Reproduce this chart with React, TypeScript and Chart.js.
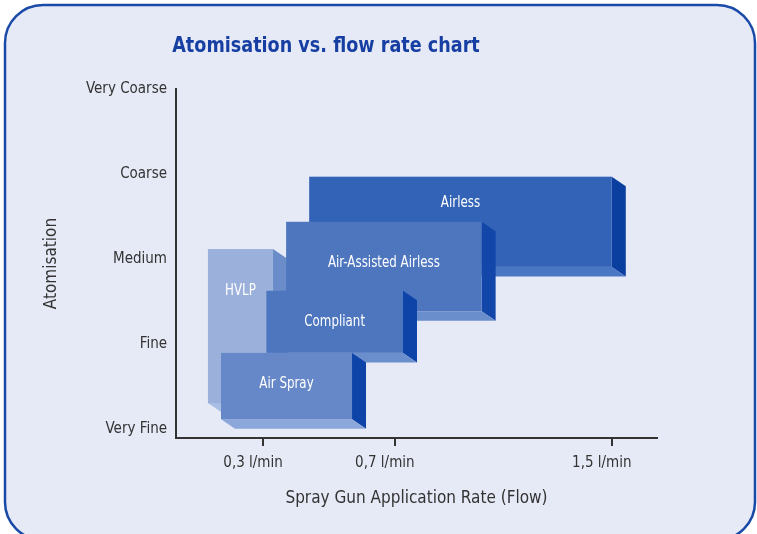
import React, { useEffect, useRef } from 'react';
import { Chart, registerables, LinearScale } from 'chart.js';

Chart.register(...registerables);

const FONT = "'Liberation Sans Narrow', 'DejaVu Sans Condensed', 'Arial Narrow', sans-serif";

// ---- data ----
const chartTitle = 'Atomisation vs. flow rate chart';
const xTitle = 'Spray Gun Application Rate (Flow)';
const yTitle = 'Atomisation';

const atomisationLevels = ['Very Fine', 'Fine', 'Medium', 'Coarse', 'Very Coarse'];
const flowTicks = [0.3, 0.7, 1.5];
const flowTickLabels = ['0,3 l/min', '0,7 l/min', '1,5 l/min'];

// The flow axis of the original is not linear: knots (l/min) and their fraction of the axis length
const flowKnots = [0, 0.3, 0.7, 1.5, 1.66];
const flowKnotFractions = [0, 0.181, 0.455, 0.906, 1];

// spray methods, drawn back to front
const methods = ['HVLP', 'Airless', 'Air-Assisted Airless', 'Compliant', 'Air Spray'];
const flowMin = [0.11, 0.44, 0.37, 0.31, 0.155];
const flowMax = [0.33, 1.5, 1.02, 0.73, 0.57];
const atomTop = [2.12, 2.97, 2.44, 1.63, 0.9];
const atomBottom = [0.31, 1.91, 1.39, 0.9, 0.12];
const labelAtom = [1.62, 2.66, 1.96, 1.26, 0.535];

const frontColors = ['#9bb1db', '#3363b7', '#4d76bf', '#4d76bf', '#6688c8'];
const sideColors = ['#6a8cc9', '#0a3fa0', '#1246a8', '#0e44a8', '#0e44a8'];
const bottomColors = ['#a9bee3', '#4a77c4', '#6a8dcc', '#6b8ecd', '#8ca7d9'];

function interp(v: number, xs: number[], ys: number[]): number {
  const n = xs.length;
  let i = 0;
  if (v <= xs[0]) i = 0;
  else if (v >= xs[n - 1]) i = n - 2;
  else {
    while (i < n - 2 && v > xs[i + 1]) i++;
  }
  const t = (v - xs[i]) / (xs[i + 1] - xs[i]);
  return ys[i] + t * (ys[i + 1] - ys[i]);
}

class PiecewiseFlowScale extends LinearScale {
  static id = 'piecewiseFlow';
  static defaults = (LinearScale as any).defaults;
  getPixelForValue(value: number) {
    if (value === null || value === undefined || isNaN(value)) return NaN;
    return (this as any).getPixelForDecimal(interp(value, flowKnots, flowKnotFractions));
  }
  getValueForPixel(pixel: number) {
    return interp((this as any).getDecimalForPixel(pixel), flowKnotFractions, flowKnots);
  }
}
Chart.register(PiecewiseFlowScale as any);

function condensedText(ctx: CanvasRenderingContext2D, text: string, x: number, y: number, squeeze: number) {
  ctx.save();
  ctx.translate(x, y);
  ctx.scale(squeeze, 1);
  ctx.fillText(text, 0, 0);
  ctx.restore();
}

const framePlugin = {
  id: 'frame',
  beforeDraw(chart: any) {
    const { ctx, width, height } = chart;
    ctx.save();
    ctx.fillStyle = '#ffffff';
    ctx.fillRect(0, 0, width, height);
    ctx.beginPath();
    ctx.roundRect(5, 5, 750, 535, 38);
    ctx.fillStyle = '#e6eaf6';
    ctx.fill();
    ctx.lineWidth = 2.5;
    ctx.strokeStyle = '#1a4aa8';
    ctx.stroke();
    ctx.fillStyle = '#173fa3';
    ctx.font = `bold 22px ${FONT}`;
    ctx.textAlign = 'center';
    ctx.textBaseline = 'middle';
    condensedText(ctx, chartTitle, 326, 46, 0.89);
    ctx.restore();
  },
};

const boxesPlugin = {
  id: 'boxes3d',
  afterDatasetsDraw(chart: any) {
    const { ctx, scales } = chart;
    const x = scales.x;
    const y = scales.y;
    const dx = 14;
    const dy = 9.5;
    ctx.save();
    methods.forEach((name, i) => {
      const x0 = x.getPixelForValue(flowMin[i]);
      const x1 = x.getPixelForValue(flowMax[i]);
      const yT = y.getPixelForValue(atomTop[i]);
      const yB = y.getPixelForValue(atomBottom[i]);
      // right face
      ctx.beginPath();
      ctx.moveTo(x1, yT);
      ctx.lineTo(x1 + dx, yT + dy);
      ctx.lineTo(x1 + dx, yB + dy);
      ctx.lineTo(x1, yB);
      ctx.closePath();
      ctx.fillStyle = sideColors[i];
      ctx.fill();
      // bottom face
      ctx.beginPath();
      ctx.moveTo(x0, yB);
      ctx.lineTo(x1, yB);
      ctx.lineTo(x1 + dx, yB + dy);
      ctx.lineTo(x0 + dx, yB + dy);
      ctx.closePath();
      ctx.fillStyle = bottomColors[i];
      ctx.fill();
      // front face
      ctx.fillStyle = frontColors[i];
      ctx.fillRect(x0, yT, x1 - x0, yB - yT);
      // label
      ctx.fillStyle = '#ffffff';
      ctx.font = `15px ${FONT}`;
      ctx.textAlign = 'center';
      ctx.textBaseline = 'middle';
      condensedText(ctx, name, (x0 + x1) / 2, y.getPixelForValue(labelAtom[i]), 0.88);
    });
    ctx.restore();
  },
};

export default function App() {
  const ref = useRef<HTMLCanvasElement | null>(null);
  useEffect(() => {
    if (!ref.current) return;
    const chart = new Chart(ref.current, {
      type: 'scatter',
      data: { datasets: [{ data: [], pointRadius: 0 }] },
      options: {
        animation: false,
        responsive: false,
        events: [],
        layout: { padding: { left: 0, right: 100, top: 89, bottom: 0 } },
        plugins: {
          legend: { display: false },
          tooltip: { enabled: false },
          title: { display: false },
        },
        scales: {
          x: {
            type: 'piecewiseFlow' as any,
            position: 'bottom',
            min: 0,
            max: 1.66,
            afterBuildTicks: (s: any) => {
              s.ticks = flowTicks.map((v) => ({ value: v }));
            },
            afterFit: (s: any) => {
              s.height = 96;
            },
            grid: {
              display: true,
              drawOnChartArea: false,
              drawTicks: true,
              tickLength: 8,
              color: '#333333',
              lineWidth: 2,
            },
            border: { display: true, color: '#333333', width: 2 },
            ticks: {
              autoSkip: false,
              maxRotation: 0,
              padding: 8,
              labelOffset: -10,
              color: '#333333',
              font: { family: FONT, size: 15 },
              callback: (_v: any, i: number) => flowTickLabels[i],
            },
            title: {
              display: true,
              text: xTitle,
              color: '#333333',
              font: { family: FONT, size: 17 },
              padding: { top: 0, bottom: 25 },
            },
          } as any,
          y: {
            type: 'linear',
            min: -0.1,
            max: 4,
            afterBuildTicks: (s: any) => {
              s.ticks = atomisationLevels.map((_l, i) => ({ value: i }));
            },
            afterFit: (s: any) => {
              s.width = 176;
            },
            grid: { display: false, drawTicks: false },
            border: { display: true, color: '#333333', width: 2 },
            ticks: {
              padding: 9,
              color: '#333333',
              font: { family: FONT, size: 15 },
              callback: (v: any) => atomisationLevels[v as number],
            },
            title: {
              display: true,
              text: yTitle,
              color: '#333333',
              font: { family: FONT, size: 17 },
              padding: { top: 41, bottom: 0 },
            },
          },
        },
      },
      plugins: [framePlugin, boxesPlugin],
    });
    return () => chart.destroy();
  }, []);
  return (
    <div style={{ position: 'fixed', left: 0, top: 0, width: 757, height: 534 }}>
      <canvas ref={ref} width={757} height={534} style={{ width: 757, height: 534, display: 'block' }} />
    </div>
  );
}
